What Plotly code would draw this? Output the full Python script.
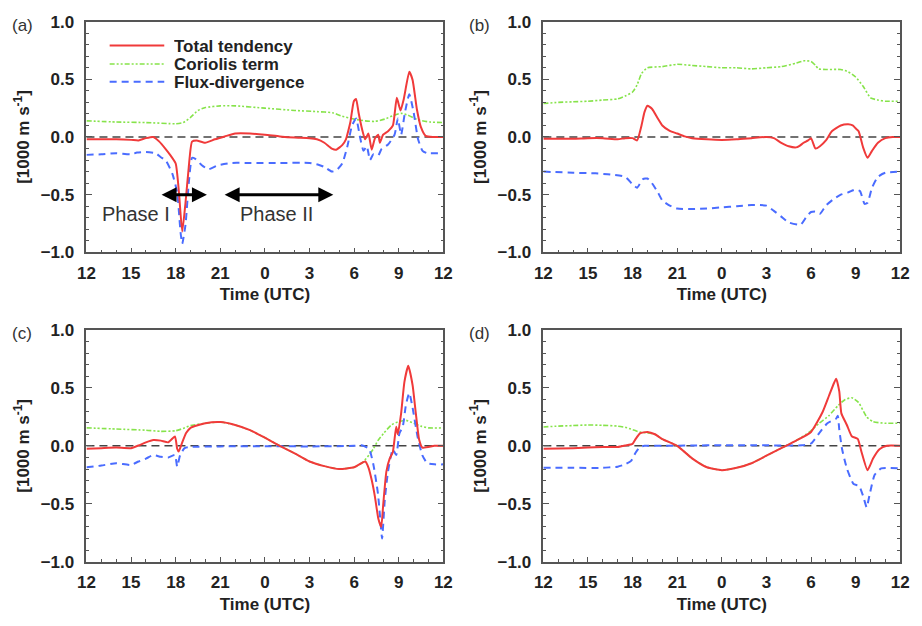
import plotly.graph_objects as go

FONT = "Liberation Sans, Arial, Helvetica, sans-serif"

# x axis: hours elapsed since 12 UTC on the first day
HOUR_TICKS = [0, 3, 6, 9, 12, 15, 18, 21, 24]
HOUR_LABELS = ["12", "15", "18", "21", "0", "3", "6", "9", "12"]

# ---------------- panel (a) ----------------
a_total_t = [0, 1, 2, 3, 3.5, 4, 4.5, 4.9, 5.3, 5.6, 6.0, 6.22, 6.44, 6.66, 6.88, 7.1, 7.4,
             7.98, 8.64, 9.3, 10, 11, 12, 13, 14, 15, 15.5, 16, 16.5, 16.8, 17.2, 17.45, 17.6,
             17.75, 17.98, 18.13, 18.3, 18.52, 18.74, 18.96, 19.18, 19.4, 19.62, 19.73, 19.95,
             20.28, 20.61, 20.87, 21.12, 21.34, 21.71, 21.93, 22.22, 22.48, 22.81, 23.3, 24]
a_total = [-0.02, -0.02, -0.02, -0.025, -0.03, -0.01, 0.0, -0.04, -0.10, -0.15, -0.23, -0.48,
           -0.82, -0.57, -0.26, -0.04, -0.03, -0.05, -0.02, 0.005, 0.03, 0.03, 0.02, 0.005,
           -0.005, -0.01, -0.02, -0.05, -0.10, -0.11, -0.07, -0.02, 0.05, 0.13, 0.31, 0.33,
           0.21, 0.075, -0.02, 0.03, -0.11, -0.01, 0.02, -0.05, 0.02, 0.05, 0.10, 0.34, 0.23,
           0.33, 0.565, 0.495, 0.24, 0.09, 0.01, 0.0, 0.0]

a_coriolis_t = [0, 2, 4, 6, 6.5, 7, 7.5, 8, 9, 10, 12, 14, 15.5, 16.55, 17.2, 18, 18.74, 19.4,
                20.06, 20.61, 21.16, 21.6, 22.26, 23.1, 24]
a_coriolis = [0.14, 0.13, 0.125, 0.115, 0.125, 0.17, 0.23, 0.255, 0.27, 0.27, 0.25, 0.23, 0.22,
              0.21, 0.18, 0.155, 0.14, 0.135, 0.155, 0.185, 0.205, 0.19, 0.15, 0.13, 0.125]

a_flux_t = [0, 1, 2, 3, 3.4, 4, 4.65, 5.0, 5.34, 5.78, 6.1, 6.33, 6.44, 6.66, 6.88, 7.1, 7.32,
            7.76, 8.2, 8.85, 9.74, 11, 13, 15, 15.6, 16, 16.5, 16.8, 17.2, 17.53, 17.86, 18.13,
            18.41, 18.63, 18.85, 19.07, 19.29, 19.62, 19.84, 20.28, 20.72, 20.94, 21.16, 21.42,
            21.71, 22.0, 22.3, 22.6, 22.9, 24]
a_flux = [-0.155, -0.15, -0.14, -0.15, -0.135, -0.13, -0.14, -0.175, -0.205, -0.32, -0.48,
          -0.83, -0.925, -0.76, -0.40, -0.18, -0.19, -0.245, -0.28, -0.245, -0.225, -0.225,
          -0.225, -0.225, -0.24, -0.26, -0.30, -0.29, -0.23, -0.09, 0.10, 0.16, -0.01, -0.12,
          -0.08, -0.20, -0.15, -0.16, -0.105, -0.065, 0.02, 0.16, 0.02, 0.215, 0.37, 0.215,
          -0.02, -0.12, -0.14, -0.14]

# ---------------- panel (b) ----------------
b_total_t = [0, 2, 3, 4, 5, 5.5, 6, 6.3, 6.6, 6.8, 7, 7.3, 7.7, 8, 8.5, 9, 9.5, 10, 11, 12,
             13, 14, 15, 15.5, 16, 16.5, 17, 17.2, 17.5, 17.8, 18, 18.3, 18.6, 19, 19.4, 20,
             20.5, 20.8, 21, 21.2, 21.5, 21.8, 22.1, 22.5, 23, 23.5, 24]
b_total = [-0.015, -0.015, -0.01, -0.01, -0.02, -0.01, -0.01, -0.03, 0.10, 0.215, 0.27, 0.245,
           0.16, 0.10, 0.053, 0.03, 0.005, -0.01, -0.02, -0.025, -0.02, -0.01, 0.0, -0.01,
           -0.05, -0.08, -0.09, -0.08, -0.05, -0.03, -0.01, -0.10, -0.08, -0.03, 0.05, 0.10,
           0.11, 0.10, 0.075, 0.05, -0.09, -0.18, -0.12, -0.05, -0.01, 0.0, 0.0]

b_coriolis_t = [0, 1, 2, 3, 4, 5, 5.5, 6, 6.3, 6.6, 7, 8, 9, 10, 11, 12, 13, 14, 15, 16, 17,
                17.5, 18, 18.3, 18.5, 19, 20, 20.5, 21, 21.5, 22, 22.5, 23, 24]
b_coriolis = [0.29, 0.30, 0.305, 0.31, 0.32, 0.33, 0.355, 0.39, 0.45, 0.55, 0.60, 0.61, 0.63,
              0.62, 0.61, 0.60, 0.60, 0.59, 0.60, 0.61, 0.64, 0.66, 0.655, 0.62, 0.59, 0.585,
              0.585, 0.565, 0.52, 0.44, 0.34, 0.32, 0.31, 0.31]

b_flux_t = [0, 2, 3.5, 4.5, 5.5, 6, 6.3, 6.7, 7, 7.3, 7.7, 8, 8.5, 9, 10, 11, 12, 13, 14, 15,
            15.5, 16, 16.5, 17.3, 17.7, 18, 18.3, 18.6, 19, 19.5, 20, 20.5, 21, 21.3, 21.6,
            21.8, 22.1, 22.5, 23, 24]
b_flux = [-0.30, -0.31, -0.315, -0.325, -0.345, -0.41, -0.44, -0.365, -0.36, -0.40, -0.48,
          -0.55, -0.595, -0.62, -0.625, -0.62, -0.61, -0.60, -0.59, -0.595, -0.64, -0.69,
          -0.74, -0.76, -0.69, -0.65, -0.645, -0.665, -0.595, -0.54, -0.50, -0.48, -0.455,
          -0.47, -0.58, -0.57, -0.44, -0.345, -0.31, -0.30]

# ---------------- panel (c) ----------------
c_total_t = [0, 1, 2, 3, 3.5, 4, 4.5, 5, 5.5, 5.95, 6.1, 6.2, 6.4, 6.7, 7, 8, 9, 10, 11, 12,
             13, 14, 15, 16, 17, 18, 18.75, 18.97, 19.19, 19.4, 19.63, 19.82, 19.96, 20.17,
             20.39, 20.6, 20.83, 20.94, 21.16, 21.38, 21.64, 21.93, 22.15, 22.37, 22.59, 23.4,
             24]
c_total = [-0.025, -0.02, -0.015, -0.02, 0.003, 0.03, 0.05, 0.045, 0.03, 0.08, -0.025, -0.05,
           0.015, 0.11, 0.155, 0.195, 0.205, 0.18, 0.135, 0.07, 0.0, -0.065, -0.135, -0.175,
           -0.20, -0.185, -0.135, -0.19, -0.30, -0.44, -0.63, -0.70, -0.50, -0.22, -0.11,
           -0.055, 0.165, 0.10, 0.28, 0.55, 0.69, 0.525, 0.28, 0.055, -0.015, 0.0, 0.0]

c_coriolis_t = [0, 2, 4, 5, 6, 6.5, 7, 8, 9, 10, 11, 12, 13, 14, 15, 16, 17, 18, 18.6, 19,
                19.3, 19.6, 20, 20.5, 21, 21.5, 22, 22.5, 23, 24]
c_coriolis = [0.155, 0.145, 0.135, 0.125, 0.13, 0.15, 0.175, 0.195, 0.205, 0.18, 0.135, 0.07,
              0.0, -0.065, -0.135, -0.175, -0.20, -0.185, -0.14, -0.08, -0.025, 0.045, 0.11,
              0.18, 0.21, 0.22, 0.195, 0.17, 0.155, 0.155]

c_flux_t = [0, 1, 2, 3, 3.5, 4, 4.5, 5, 5.5, 5.95, 6.1, 6.3, 6.6, 7, 9, 12, 15, 18, 18.5, 19,
            19.3, 19.6, 19.75, 19.88, 20.06, 20.28, 20.6, 20.83, 21.05, 21.27, 21.49, 21.71,
            21.93, 22.26, 22.59, 22.92, 23.4, 24]
c_flux = [-0.185, -0.17, -0.15, -0.165, -0.135, -0.11, -0.08, -0.095, -0.10, -0.08, -0.18,
          -0.08, -0.02, -0.01, -0.005, -0.003, -0.005, 0.0, 0.005, -0.025, -0.165, -0.41,
          -0.62, -0.80, -0.47, -0.22, -0.03, -0.08, 0.11, 0.165, 0.36, 0.455, 0.33, 0.083,
          -0.083, -0.15, -0.16, -0.16]

# ---------------- panel (d) ----------------
d_total_t = [0, 2, 4, 5, 5.5, 6, 6.2, 6.5, 7, 7.5, 8, 9, 10, 11, 12, 13, 14, 15, 16, 17, 18,
             18.77, 19.2, 19.54, 19.69, 19.9, 20.04, 20.41, 20.74, 21.14, 21.4, 21.8, 22.17,
             22.6, 23.1, 24]
d_total = [-0.025, -0.02, -0.01, -0.01, 0.003, 0.017, 0.058, 0.108, 0.12, 0.10, 0.058, 0.0,
           -0.108, -0.185, -0.21, -0.19, -0.15, -0.085, -0.02, 0.045, 0.12, 0.29, 0.43, 0.54,
           0.58, 0.47, 0.28, 0.18, 0.083, 0.06, -0.055, -0.21, -0.11, -0.03, 0.0, 0.0]

d_coriolis_t = [0, 1, 2, 3, 4, 5, 5.5, 6, 6.5, 7, 7.5, 8, 9, 10, 11, 12, 13, 14, 15, 16, 17,
                17.9, 18.55, 19.2, 19.8, 20.3, 20.74, 21.19, 21.74, 22.17, 22.95, 24]
d_coriolis = [0.163, 0.17, 0.175, 0.18, 0.177, 0.17, 0.16, 0.14, 0.118, 0.112, 0.10, 0.058,
              0.0, -0.108, -0.185, -0.21, -0.19, -0.15, -0.085, -0.02, 0.045, 0.12, 0.195,
              0.26, 0.345, 0.40, 0.415, 0.375, 0.25, 0.208, 0.195, 0.195]

d_flux_t = [0, 2, 4, 4.5, 5, 5.5, 5.9, 6.2, 6.5, 6.8, 8, 10, 12, 14, 17.4, 18.0, 18.55, 19.1,
            19.69, 19.8, 19.9, 20.09, 20.41, 20.86, 21.23, 21.52, 21.74, 21.95, 22.28, 22.72,
            24]
d_flux = [-0.19, -0.19, -0.19, -0.185, -0.18, -0.16, -0.13, -0.06, -0.01, 0.0, 0.0, 0.003,
          0.005, 0.005, 0.005, 0.02, 0.11, 0.195, 0.235, 0.26, 0.14, -0.03, -0.195, -0.33,
          -0.345, -0.44, -0.53, -0.415, -0.25, -0.195, -0.195]

PANELS = [
    ("(a)", (a_total_t, a_total), (a_coriolis_t, a_coriolis), (a_flux_t, a_flux)),
    ("(b)", (b_total_t, b_total), (b_coriolis_t, b_coriolis), (b_flux_t, b_flux)),
    ("(c)", (c_total_t, c_total), (c_coriolis_t, c_coriolis), (c_flux_t, c_flux)),
    ("(d)", (d_total_t, d_total), (d_coriolis_t, d_coriolis), (d_flux_t, d_flux)),
]

SERIES_NAMES = ["Total tendency", "Coriolis term", "Flux-divergence"]
RED, GREEN, BLUE = "#f03a3a", "#86e34a", "#4a6cff"
STYLES = {
    "Total tendency": dict(color=RED, width=2, dash="solid"),
    "Coriolis term": dict(color=GREEN, width=1.6, dash="5px,2px,2px,2px,2px,2px"),
    "Flux-divergence": dict(color=BLUE, width=2, dash="7px,5px"),
}

W, H = 922, 626
X_DOMAINS = [(79 / W, 443 / W), (545 / W, 909 / W)]
Y_DOMAINS = [(1 - 251 / H, 1 - 13 / H), (1 - 570 / H, 1 - 331 / H)]
FRAME = "#555555"
TEXT = "#222222"

fig = go.Figure()
layout = dict(
    width=W, height=H,
    margin=dict(l=0, r=0, t=0, b=0),
    paper_bgcolor="white", plot_bgcolor="white",
    showlegend=False,
    font=dict(family=FONT, color=TEXT),
)
annotations = []
shapes = []

for i, (label, total, cor, flux) in enumerate(PANELS):
    n = "" if i == 0 else str(i + 1)
    col, row = i % 2, i // 2
    xa, ya = "x" + n, "y" + n

    # draw order: Coriolis, flux-divergence, then total on top
    for name, (t, v) in (("Coriolis term", cor), ("Flux-divergence", flux),
                         ("Total tendency", total)):
        st = STYLES[name]
        fig.add_trace(go.Scatter(
            x=t, y=v, mode="lines", name=name, xaxis=xa, yaxis=ya,
            line=dict(color=st["color"], width=st["width"], dash=st["dash"],
                      shape="spline", smoothing=0.5),
            hoverinfo="skip",
        ))

    layout["xaxis" + n] = dict(
        domain=X_DOMAINS[col], anchor=ya, range=[0, 24],
        tickmode="array", tickvals=HOUR_TICKS, ticktext=HOUR_LABELS,
        ticks="inside", ticklen=5, tickwidth=1.2, tickcolor=FRAME,
        minor=dict(tickmode="array", tickvals=list(range(25)), ticks="inside",
                   ticklen=3, tickwidth=1, tickcolor=FRAME, showgrid=False),
        showline=True, linecolor=FRAME, linewidth=1.6, mirror=True,
        showgrid=False, zeroline=False,
        tickfont=dict(family=FONT, size=17, color=TEXT, weight="bold"),
        ticklabelstandoff=4,
        title=dict(text="Time (UTC)", standoff=7,
                   font=dict(family=FONT, size=17, color=TEXT, weight="bold")),
    )
    layout["yaxis" + n] = dict(
        domain=Y_DOMAINS[row], anchor=xa, range=[-1, 1],
        tickmode="linear", tick0=0, dtick=0.5, tickformat=".1f",
        ticks="inside", ticklen=6, tickwidth=1.2, tickcolor=FRAME,
        minor=dict(dtick=0.1, ticks="inside", ticklen=3, tickwidth=1,
                   tickcolor=FRAME, showgrid=False),
        showline=True, linecolor=FRAME, linewidth=1.6, mirror="ticks",
        showgrid=False, zeroline=False,
        tickfont=dict(family=FONT, size=17, color=TEXT, weight="bold"),
        ticklabelstandoff=7,
        title=dict(text="[1000 m s<sup>-1</sup>]", standoff=7,
                   font=dict(family=FONT, size=17, color=TEXT, weight="bold")),
    )

    # dashed zero reference line
    shapes.append(dict(type="line", xref=xa + " domain", yref=ya, x0=0, x1=1, y0=0, y1=0,
                       line=dict(color="#444444", width=1.5, dash="8px,5px"), layer="below"))

    # panel letter
    annotations.append(dict(
        text=label, xref="paper", yref="paper",
        x=(X_DOMAINS[col][0] * W - 78) / W, y=Y_DOMAINS[row][1] - 4 / H,
        xanchor="left", yanchor="middle", showarrow=False,
        font=dict(family=FONT, size=17, color="#333333"),
    ))

# legend drawn inside panel (a); rows are tight, so each label box is kept short
legend_rows = [0.896, 0.816, 0.739]
for name, yy in zip(SERIES_NAMES, legend_rows):
    st = STYLES[name]
    shapes.append(dict(type="line", xref="x domain", yref="y domain",
                       x0=0.065, x1=0.218, y0=yy, y1=yy,
                       line=dict(color=st["color"], width=st["width"], dash=st["dash"])))
    annotations.append(dict(text=name, xref="x domain", yref="y domain", x=0.243, y=yy,
                            xanchor="left", yanchor="middle", showarrow=False,
                            height=18, valign="middle", borderpad=0,
                            font=dict(family=FONT, size=17, color=TEXT, weight="bold")))

# phase arrows and labels in panel (a)
for x0, x1 in ((4.95, 8.1), (9.19, 16.6)):
    annotations.append(dict(
        text="", xref="x", yref="y", axref="x", ayref="y",
        x=x1, y=-0.5, ax=x0, ay=-0.5, showarrow=True,
        arrowhead=2, startarrowhead=2, arrowside="end+start",
        arrowsize=1, startarrowsize=1, arrowwidth=3, arrowcolor="black",
    ))
for txt, xc in (("Phase I", 3.3), ("Phase II", 12.8)):
    annotations.append(dict(text=txt, xref="x", yref="y", x=xc, y=-0.665,
                            showarrow=False,
                            font=dict(family=FONT, size=20, color="#333333")))

layout["annotations"] = annotations
layout["shapes"] = shapes
fig.update_layout(**layout)
fig.write_html("out.html")
